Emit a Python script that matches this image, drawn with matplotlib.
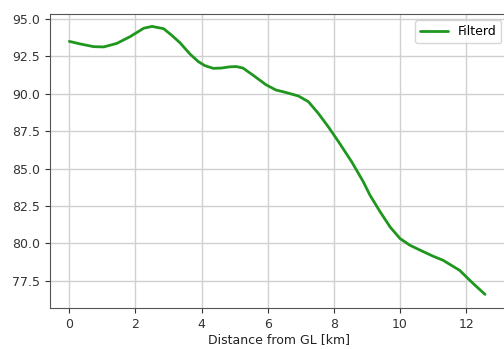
import matplotlib
matplotlib.use("Agg")
import matplotlib.pyplot as plt

distance_km = [0, 0.33, 0.73, 1.04, 1.44, 1.84, 2.25, 2.5, 2.85, 3.1, 3.35, 3.65,
               3.9, 4.1, 4.35, 4.6, 4.85, 5.05, 5.25, 5.55, 5.95, 6.25, 6.53, 6.93,
               7.23, 7.53, 7.83, 8.14, 8.54, 8.89, 9.09, 9.4, 9.7, 10.0, 10.3, 10.66,
               11.0, 11.3, 11.8, 12.2, 12.57]
filtered = [93.5, 93.33, 93.15, 93.13, 93.37, 93.82, 94.38, 94.5, 94.35, 93.9, 93.4, 92.65,
            92.15, 91.88, 91.7, 91.72, 91.8, 91.82, 91.72, 91.25, 90.6, 90.25, 90.1, 89.85,
            89.47, 88.69, 87.8, 86.8, 85.45, 84.12, 83.23, 82.11, 81.1, 80.33, 79.88, 79.5,
            79.15, 78.88, 78.21, 77.35, 76.6]
series_label = "Filterd"
x_label = "Distance from GL [km]"

W, H = 504, 349
fig = plt.figure(figsize=(W / 100, H / 100), dpi=100)
left, right, top, bottom = 49.5, 507.5, 14, 308
ax = fig.add_axes([left / W, 1 - bottom / H, (right - left) / W, (bottom - top) / H])

ax.plot(distance_km, filtered, color="#1f971f", linewidth=2, label=series_label,
        solid_joinstyle="round", solid_capstyle="round")
ax.set_xlim(-0.6, 13.25)
ax.set_ylim(75.69, 95.33)
ax.set_xticks([0, 2, 4, 6, 8, 10, 12])
ax.set_yticks([77.5, 80.0, 82.5, 85.0, 87.5, 90.0, 92.5, 95.0])
ax.set_yticklabels(["77.5", "80.0", "82.5", "85.0", "87.5", "90.0", "92.5", "95.0"])
ax.grid(True, color="#d0d0d0", linewidth=1)
ax.tick_params(labelsize=9, colors="#333333", labelcolor="#333333")
for s in ax.spines.values():
    s.set_color("#555555")
ax.set_xlabel(x_label, fontsize=9, color="#222222", labelpad=2)
ax.legend(loc="upper right", fontsize=9, handlelength=2.2, framealpha=0.8)

fig.savefig("out.png", dpi=100)
